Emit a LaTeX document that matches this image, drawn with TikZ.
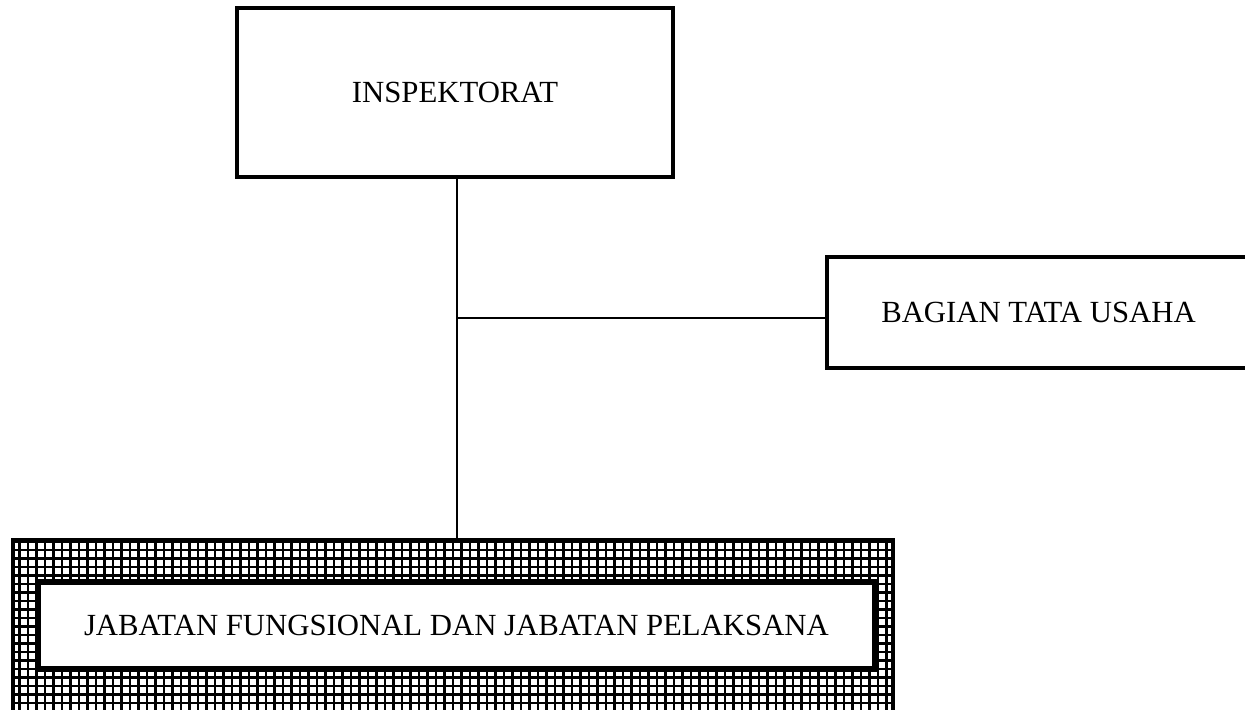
\documentclass[tikz,border=0pt]{standalone}
\usepackage{fontspec}
\setmainfont{Liberation Serif}
\usepackage{tikz}

\tikzset{
  unitbox/.style={draw, line width=2.6pt, fill=white, align=center,
    font=\fontsize{17.5}{21}\selectfont},
  link/.style={line width=1.4pt},
  gridline/.style={line width=1.3pt}
}

\begin{document}
\begin{tikzpicture}[x=0.02cm,y=-0.02cm]

\useasboundingbox (0,0) rectangle (1245,710);

\node [unitbox, minimum width=8.72cm, minimum height=3.38cm] (insp) at (455,92.5) {INSPEKTORAT};
\node [unitbox, minimum width=8.46cm, minimum height=2.22cm] (tu) at (1038.5,312.5) {BAGIAN TATA USAHA};

% kotak luar berarsir kotak-kotak
\node [draw, line width=2.6pt, minimum width=17.6cm, minimum height=3.8cm,
  path picture={\draw [gridline] (path picture bounding box.south west)
    grid [step=0.17cm] (path picture bounding box.north east);}] (jfframe) at (453,635) {};
\node [unitbox, line width=3pt, minimum width=16.74cm, minimum height=1.74cm] (jf) at (456.5,625.5) {JABATAN FUNGSIONAL DAN JABATAN PELAKSANA};

\coordinate (top) at (457,177);
\coordinate (cab) at (457,318);

\draw [link] (top) -- (top |- jfframe.north);
\draw [link] (cab) -- (cab -| tu.west);

\end{tikzpicture}
\end{document}
